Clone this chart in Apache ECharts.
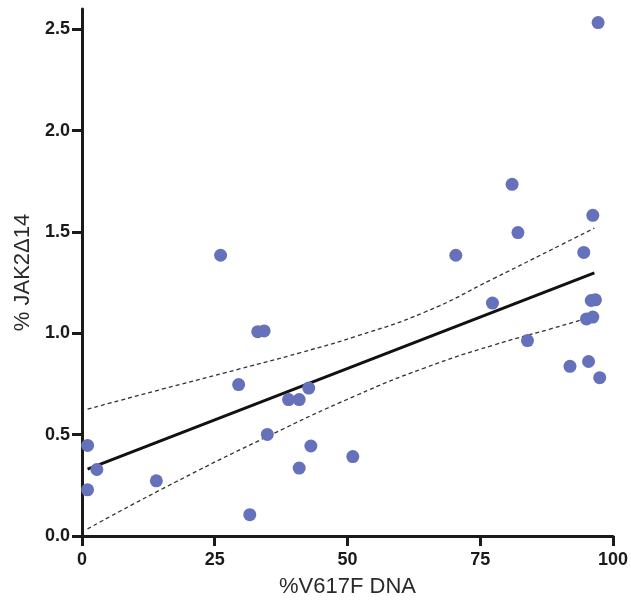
<!DOCTYPE html>
<html>
<head>
<meta charset="utf-8">
<script src="https://cdn.jsdelivr.net/npm/echarts@6/dist/echarts.min.js"></script>
<style>html,body{margin:0;padding:0;background:#fff}#c{width:631px;height:603px}</style>
</head>
<body>
<div id="c"></div>
<script>
// Scatter points: % V617F DNA (x) vs % JAK2Δ14 (y)
const xValues = [1.05, 2.8, 1.05, 14.0, 26.1, 33.1, 34.3, 29.5, 38.9, 40.9, 42.7, 34.9, 43.1, 40.9, 51.0, 31.6,
                 81.0, 96.2, 82.1, 70.4, 94.5, 77.3, 95.9, 96.7, 95.0, 96.2, 83.9, 91.9, 95.4, 97.5, 97.2];
const yValues = [0.447, 0.328, 0.228, 0.272, 1.385, 1.008, 1.012, 0.747, 0.673, 0.673, 0.730, 0.501, 0.444, 0.335, 0.392, 0.105,
                 1.735, 1.582, 1.497, 1.385, 1.399, 1.149, 1.162, 1.165, 1.071, 1.080, 0.964, 0.837, 0.861, 0.781, 2.533];
// Regression line
const fitX = [1.05, 96.5];
const fitY = [0.330, 1.298];
// Upper 95% confidence band
const upperX = [1.05, 15.9, 29.5, 41.2, 51.6, 64.6, 77.5, 90.5, 96.5];
const upperY = [0.626, 0.730, 0.823, 0.905, 0.985, 1.105, 1.270, 1.440, 1.519];
// Lower 95% confidence band
const lowerX = [1.05, 15.9, 34.7, 51.6, 64.6, 77.5, 88.0, 96.3];
const lowerY = [0.035, 0.243, 0.488, 0.693, 0.830, 0.942, 1.020, 1.083];
// Axis ticks
const xTicks = [0, 25, 50, 75, 100];
const yTicks = [0, 0.5, 1.0, 1.5, 2.0, 2.5];

const zip = (a, b) => a.map((v, i) => [v, b[i]]);
const chart = echarts.init(document.getElementById('c'), null, {renderer: 'canvas'});
const FONT = '"Liberation Sans", Arial, Helvetica, sans-serif';
chart.setOption({
  animation: false,
  backgroundColor: '#ffffff',
  grid: {left: 82, right: 18, top: 9, bottom: 63.5, containLabel: false},
  xAxis: {
    type: 'value', min: 0, max: 100, interval: 25,
    name: '%V617F DNA', nameLocation: 'middle', nameGap: 40,
    nameTextStyle: {fontFamily: FONT, fontSize: 22, color: '#2a2a2a'},
    axisLine: {show: true, lineStyle: {color: '#1a1a1a', width: 3}},
    axisTick: {show: true, length: 10, lineStyle: {color: '#1a1a1a', width: 3}, customValues: xTicks},
    axisLabel: {margin: 15, fontFamily: FONT, fontSize: 18, fontWeight: 'bold', color: '#1a1a1a', customValues: xTicks},
    splitLine: {show: false}
  },
  yAxis: {
    type: 'value', min: 0, max: 2.6,
    name: '% JAK2Δ14', nameLocation: 'middle', nameGap: 46, nameRotate: 90,
    nameTextStyle: {fontFamily: FONT, fontSize: 22, color: '#2a2a2a'},
    axisLine: {show: true, lineStyle: {color: '#1a1a1a', width: 3}},
    axisTick: {show: true, length: 10, lineStyle: {color: '#1a1a1a', width: 3}, customValues: yTicks},
    axisLabel: {margin: 12, fontFamily: FONT, fontSize: 18, fontWeight: 'bold', color: '#1a1a1a',
      customValues: yTicks, formatter: v => Number(v).toFixed(1)},
    splitLine: {show: false}
  },
  series: [
    {type: 'line', data: zip(upperX, upperY), smooth: 0.5, symbol: 'none', silent: true,
     lineStyle: {color: '#333', width: 1.3, type: [4, 3]}, z: 2},
    {type: 'line', data: zip(lowerX, lowerY), smooth: 0.5, symbol: 'none', silent: true,
     lineStyle: {color: '#333', width: 1.3, type: [4, 3]}, z: 2},
    {type: 'line', data: zip(fitX, fitY), symbol: 'none', silent: true,
     lineStyle: {color: '#111', width: 3}, z: 3},
    {type: 'scatter', data: zip(xValues, yValues), symbol: 'circle', symbolSize: 13,
     itemStyle: {color: '#6571bb', opacity: 1}, z: 4}
  ]
});
</script>
</body>
</html>
